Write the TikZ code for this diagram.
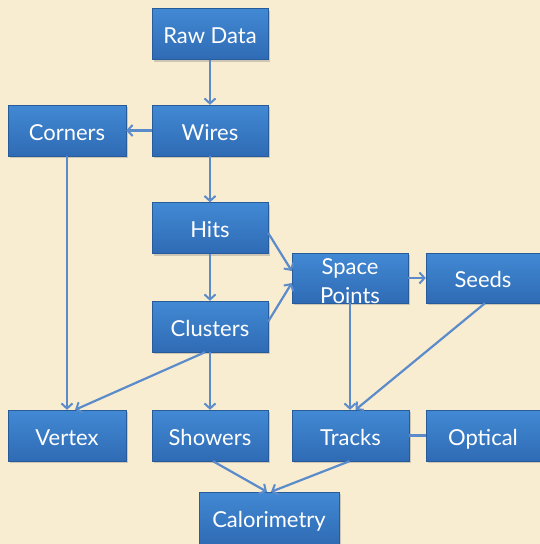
\documentclass[tikz,border=0pt]{standalone}
\usepackage{fontspec}
\setmainfont{Lato}
\usetikzlibrary{arrows.meta,shadows,calc}
\definecolor{bg}{HTML}{F8EDD0}
\definecolor{boxtop}{HTML}{4289D4}
\definecolor{boxbot}{HTML}{2F6BB4}
\definecolor{edge}{HTML}{5B8BCB}
\tikzset{
  box/.style={rectangle, minimum height=51pt, inner sep=0pt,
    top color=boxtop, bottom color=boxbot, draw=boxbot!85!black, line width=0.4pt,
    text=white, font=\fontsize{22}{29}\selectfont,
    text height=19pt, text depth=0pt,
    drop shadow={shadow xshift=1.5pt, shadow yshift=-2pt, opacity=0.35}},
  conn/.style={draw=edge, line width=2.2pt},
  arr/.style={conn, -{Straight Barb[length=5pt,width=11pt,line width=2pt]}}
}
\begin{document}
\begin{tikzpicture}[x=1pt,y=-1pt]
\fill[bg] (0,0) rectangle (540,544);
\useasboundingbox (0,0) rectangle (540,544);
\node[box, minimum width=116pt] (raw) at (210,34) {Raw Data};
\node[box, minimum width=116pt] (wires) at (210,130.5) {Wires};
\node[box, minimum width=118pt] (corners) at (67,130.5) {Corners};
\node[box, minimum width=116pt] (hits) at (210,228) {Hits};
\node[box, minimum width=116pt] (clusters) at (210,326.5) {Clusters};
\node[box, minimum width=116pt, minimum height=50pt, text height=, text depth=] (sp) at (350,278)
  {\raisebox{-10pt}[20pt][20pt]{\begin{tabular}{@{}c@{}}Space\\Points\end{tabular}}};
\node[box, minimum width=114pt, minimum height=50pt] (seeds) at (483,278) {Seeds};
\node[box, minimum width=118pt] (vertex) at (67,435.5) {Vertex};
\node[box, minimum width=116pt] (showers) at (210,435.5) {Showers};
\node[box, minimum width=117pt] (tracks) at (350.5,435.5) {Tracks};
\node[box, minimum width=114pt] (optical) at (483,435.5) {Optical};
\node[box, minimum width=140pt, minimum height=52pt] (calo) at (269,518) {Calorimetry};

\draw[arr] (raw) -- (wires);
\draw[arr] (wires) -- (corners);
\draw[arr] (wires) -- (hits);
\draw[arr] (hits) -- (clusters);
\draw[arr] ($(hits.east)+(0,5)$) -- ($(sp.west)+(0,-7)$);
\draw[arr] ($(clusters.east)+(0,-5)$) -- ($(sp.west)+(0,5)$);
\draw[arr] (sp) -- (seeds);
\draw[arr] (corners) -- (vertex);
\draw[arr] ($(clusters.south)+(-5,0)$) -- ($(vertex.north)+(8,0)$);
\draw[arr] (clusters) -- (showers);
\draw[arr] (sp.south) -- (tracks.north -| sp.south);
\draw[arr] ($(seeds.south)+(2,0)$) -- ($(tracks.north)+(5,0)$);
\draw[conn] (tracks) -- (optical);
\draw[arr] ($(showers.south)+(3,0)$) -- ($(calo.north)+(-2,0)$);
\draw[arr] ($(tracks.south)+(-1,0)$) -- ($(calo.north)+(2,0)$);
\end{tikzpicture}
\end{document}
